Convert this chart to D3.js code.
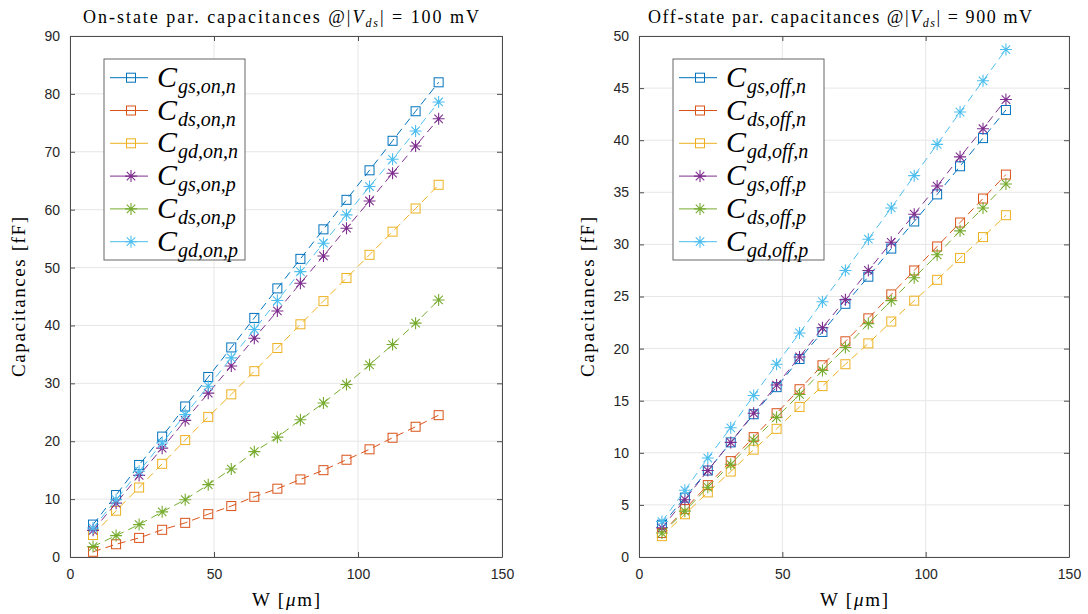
<!DOCTYPE html>
<html>
<head>
<meta charset="utf-8">
<script src="https://cdn.jsdelivr.net/npm/d3@7"></script>
<style>
  body { margin: 0; background: #fff; }
  svg { display: block; }
  .tick text { font-family: "Liberation Sans", Arial, sans-serif; font-size: 14px; fill: #262626; }
  .lbl { font-family: "Liberation Serif", "Times New Roman", serif; fill: #000; }
</style>
</head>
<body>
<svg id="chart" width="1088" height="614"></svg>
<script>
// widths in um
const widths = [8, 16, 24, 32, 40, 48, 56, 64, 72, 80, 88, 96, 104, 112, 120, 128];

// on-state, |Vds| = 100 mV  [fF]
const cgsOnN = [5.6, 10.7, 15.9, 20.8, 26.0, 31.1, 36.2, 41.3, 46.4, 51.5, 56.6, 61.7, 66.8, 71.9, 77.0, 82.0];
const cdsOnN = [0.9, 2.2, 3.3, 4.7, 5.9, 7.4, 8.8, 10.4, 11.8, 13.4, 15.0, 16.8, 18.6, 20.6, 22.5, 24.5];
const cgdOnN = [3.8, 8.0, 12.0, 16.1, 20.2, 24.2, 28.1, 32.1, 36.1, 40.2, 44.2, 48.2, 52.2, 56.2, 60.2, 64.3];
const cgsOnP = [4.6, 9.3, 14.1, 18.8, 23.6, 28.3, 33.0, 37.8, 42.5, 47.3, 52.0, 56.8, 61.5, 66.3, 71.0, 75.7];
const cdsOnP = [1.8, 3.7, 5.6, 7.8, 9.9, 12.5, 15.2, 18.2, 20.7, 23.7, 26.6, 29.8, 33.2, 36.7, 40.4, 44.4];
const cgdOnP = [5.0, 9.9, 14.8, 19.7, 24.6, 29.5, 34.4, 39.3, 44.3, 49.3, 54.2, 59.1, 64.0, 68.7, 73.6, 78.6];

// off-state, |Vds| = 900 mV  [fF]
const cgsOffN = [3.1, 5.7, 8.3, 11.0, 13.7, 16.3, 19.0, 21.6, 24.3, 26.9, 29.6, 32.2, 34.8, 37.5, 40.2, 42.9];
const cdsOffN = [2.3, 4.6, 6.9, 9.2, 11.5, 13.8, 16.1, 18.4, 20.7, 22.9, 25.2, 27.5, 29.8, 32.1, 34.4, 36.7];
const cgdOffN = [2.0, 4.1, 6.2, 8.2, 10.3, 12.3, 14.4, 16.4, 18.5, 20.5, 22.6, 24.6, 26.6, 28.7, 30.7, 32.8];
const cgsOffP = [2.8, 5.5, 8.3, 11.0, 13.8, 16.5, 19.2, 22.0, 24.7, 27.5, 30.2, 32.9, 35.6, 38.4, 41.1, 43.9];
const cdsOffP = [2.3, 4.4, 6.7, 8.9, 11.2, 13.4, 15.6, 17.9, 20.1, 22.4, 24.6, 26.8, 29.0, 31.3, 33.5, 35.8];
const cgdOffP = [3.4, 6.4, 9.5, 12.4, 15.5, 18.5, 21.5, 24.5, 27.5, 30.5, 33.5, 36.6, 39.6, 42.7, 45.7, 48.7];

const colors = ['#0072BD', '#D95319', '#EDB120', '#7E2F8E', '#77AC30', '#4DBEEE'];
const markers = ['square', 'square', 'square', 'star', 'star', 'star'];

const onSeries = [
  {sub: 'gs,on,n', values: cgsOnN}, {sub: 'ds,on,n', values: cdsOnN}, {sub: 'gd,on,n', values: cgdOnN},
  {sub: 'gs,on,p', values: cgsOnP}, {sub: 'ds,on,p', values: cdsOnP}, {sub: 'gd,on,p', values: cgdOnP}
];
const offSeries = [
  {sub: 'gs,off,n', values: cgsOffN}, {sub: 'ds,off,n', values: cdsOffN}, {sub: 'gd,off,n', values: cgdOffN},
  {sub: 'gs,off,p', values: cgsOffP}, {sub: 'ds,off,p', values: cdsOffP}, {sub: 'gd,off,p', values: cgdOffP}
];

const svg = d3.select('#chart');

function drawMarker(g, type, x, y, color) {
  if (type === 'square') {
    g.append('rect').attr('x', x - 4.5).attr('y', y - 4.5).attr('width', 9).attr('height', 9)
      .attr('fill', 'none').attr('stroke', color).attr('stroke-width', 1);
  } else {
    const r = 6, d = r * 0.707;
    g.append('path')
      .attr('d', `M${x - r},${y}L${x + r},${y}M${x},${y - r}L${x},${y + r}M${x - d},${y - d}L${x + d},${y + d}M${x - d},${y + d}L${x + d},${y - d}`)
      .attr('stroke', color).attr('stroke-width', 1.1).attr('fill', 'none');
  }
}

function drawPanel(cfg) {
  const x = d3.scaleLinear().domain([0, 150]).range([cfg.left, cfg.right]);
  const y = d3.scaleLinear().domain([0, cfg.ymax]).range([557, 36]);
  const g = svg.append('g');

  // grid
  g.selectAll('.gx').data(x.ticks(3)).join('line')
    .attr('x1', d => x(d)).attr('x2', d => x(d)).attr('y1', 36).attr('y2', 557)
    .attr('stroke', '#e6e6e6');
  g.selectAll('.gy').data(d3.range(0, cfg.ymax + 0.01, cfg.ystep)).join('line')
    .attr('x1', cfg.left).attr('x2', cfg.right).attr('y1', d => y(d)).attr('y2', d => y(d))
    .attr('stroke', '#e6e6e6');

  // axes (ticks inward)
  const yTicks = d3.range(0, cfg.ymax + 0.01, cfg.ystep);
  const ax = g.append('g').attr('transform', 'translate(0,557)')
    .call(d3.axisBottom(x).tickValues([0, 50, 100, 150]).tickSizeInner(-5).tickSizeOuter(0).tickPadding(12));
  const ay = g.append('g').attr('transform', `translate(${cfg.left},0)`)
    .call(d3.axisLeft(y).tickValues(yTicks).tickSizeInner(-5).tickSizeOuter(0).tickPadding(10));
  const at = g.append('g').attr('transform', 'translate(0,36)')
    .call(d3.axisTop(x).tickValues([0, 50, 100, 150]).tickSizeInner(-5).tickSizeOuter(0).tickFormat(''));
  const ar = g.append('g').attr('transform', `translate(${cfg.right},0)`)
    .call(d3.axisRight(y).tickValues(yTicks).tickSizeInner(-5).tickSizeOuter(0).tickFormat(''));
  [ax, ay, at, ar].forEach(a => {
    a.select('.domain').attr('stroke', '#4d4d4d');
    a.selectAll('.tick line').attr('stroke', '#4d4d4d');
  });

  // series
  const line = d3.line().x((d, i) => x(widths[i])).y(d => y(d));
  cfg.series.forEach((s, k) => {
    const sg = g.append('g');
    sg.append('path').attr('d', line(s.values)).attr('fill', 'none')
      .attr('stroke', colors[k]).attr('stroke-width', 1).attr('stroke-dasharray', '8,5');
    s.values.forEach((v, i) => drawMarker(sg, markers[k], x(widths[i]), y(v), colors[k]));
  });

  // legend
  const lx = cfg.left + 34;
  const lw = cfg.legendW;
  const lg = g.append('g');
  lg.append('rect').attr('x', lx).attr('y', 59).attr('width', lw).attr('height', 201)
    .attr('fill', '#fff').attr('stroke', '#666').attr('stroke-width', 1);
  cfg.series.forEach((s, k) => {
    const yy = 77.7 + k * 32.8;
    lg.append('line').attr('x1', lx + 6).attr('x2', lx + 44).attr('y1', yy).attr('y2', yy)
      .attr('stroke', colors[k]).attr('stroke-width', 1);
    drawMarker(lg, markers[k], lx + 27, yy, colors[k]);
    const t = lg.append('text').attr('class', 'lbl').attr('x', lx + 53).attr('y', yy + 9)
      .style('font-style', 'italic');
    t.append('tspan').attr('font-size', 30).text('C');
    t.append('tspan').attr('font-size', 20).attr('dy', 6).attr('dx', 1).text(s.sub);
  });

  // title
  const tt = g.append('text').attr('class', 'lbl').attr('x', cfg.titleX).attr('y', 23)
    .attr('text-anchor', 'middle').attr('font-size', 18)
    .attr('textLength', cfg.titleW).attr('lengthAdjust', 'spacing');
  tt.append('tspan').text(cfg.title + ' @|');
  tt.append('tspan').style('font-style', 'italic').text('V');
  tt.append('tspan').style('font-style', 'italic').attr('font-size', 12).attr('dy', 4).text('ds');
  tt.append('tspan').attr('dy', -4).text('| = ' + cfg.vds + ' mV');

  // x label
  const cx = (cfg.left + cfg.right) / 2;
  const xl = g.append('text').attr('class', 'lbl').attr('x', cx).attr('y', 606)
    .attr('text-anchor', 'middle').attr('font-size', 19)
    .attr('textLength', 68).attr('lengthAdjust', 'spacing');
  xl.append('tspan').text('W [');
  xl.append('tspan').style('font-style', 'italic').text('\u03bc');
  xl.append('tspan').text('m]');

  // y label
  g.append('text').attr('class', 'lbl')
    .attr('transform', `translate(${cfg.left - 45},297) rotate(-90)`)
    .attr('text-anchor', 'middle').attr('font-size', 19)
    .attr('textLength', 160).attr('lengthAdjust', 'spacing')
    .text('Capacitances [fF]');
}

drawPanel({left: 70, right: 502, ymax: 90, ystep: 10, series: onSeries, legendW: 141,
  title: 'On-state par.  capacitances', vds: '100', titleX: 281, titleW: 396});
drawPanel({left: 639, right: 1069, ymax: 50, ystep: 5, series: offSeries, legendW: 151,
  title: 'Off-state par.  capacitances', vds: '900', titleX: 840, titleW: 384});
</script>
</body>
</html>
